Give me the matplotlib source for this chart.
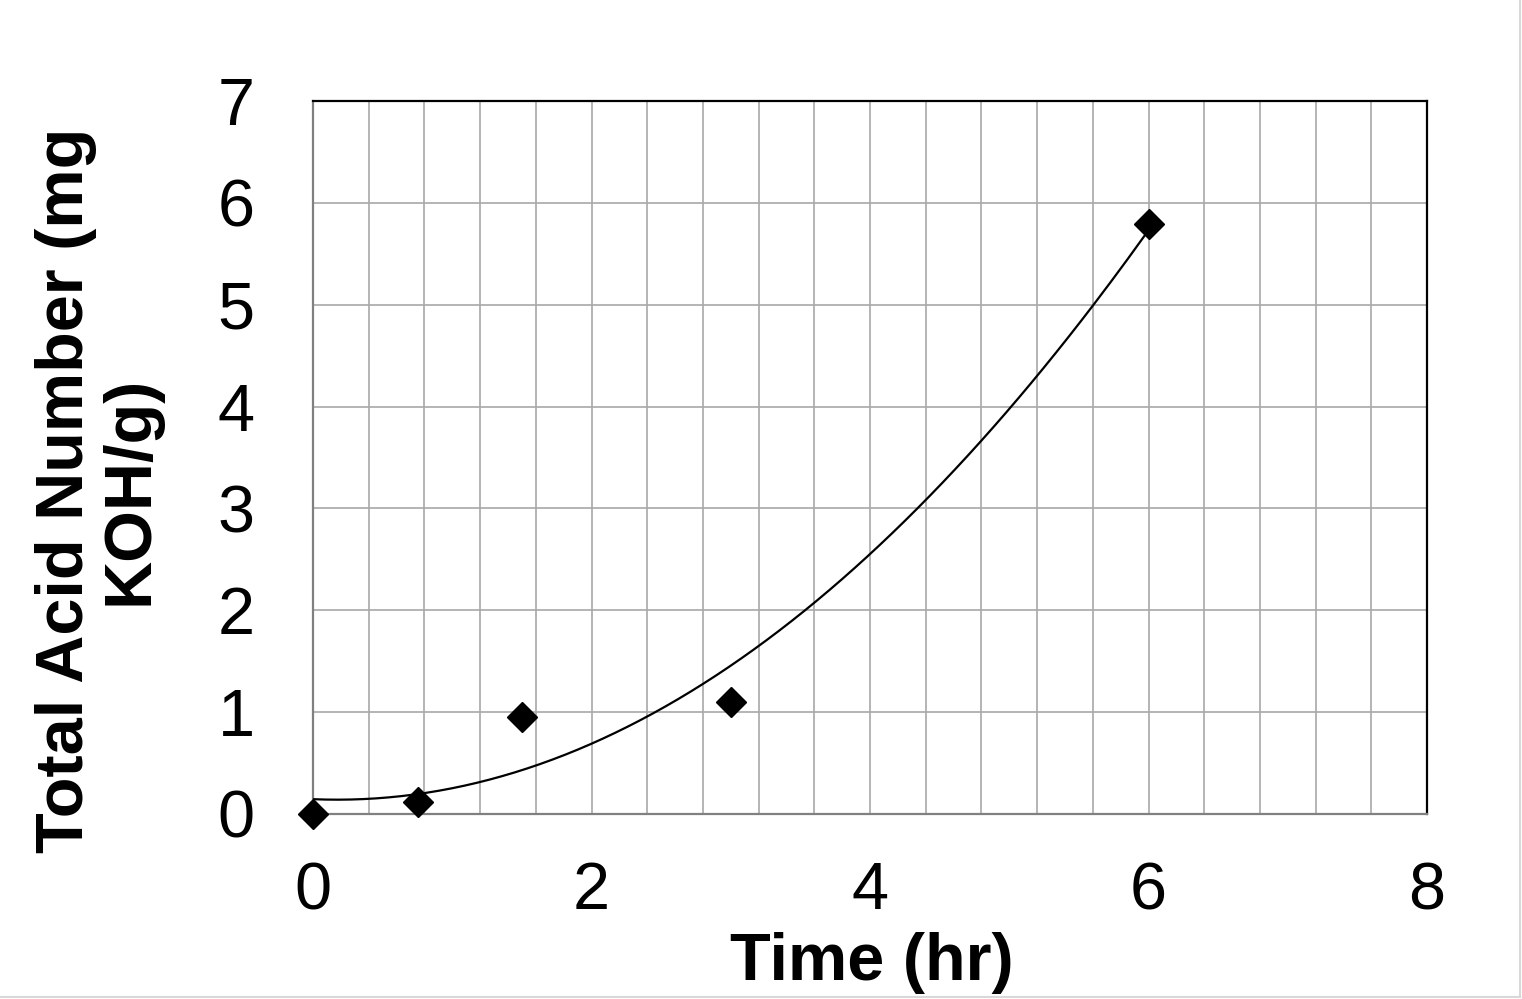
import numpy as np
import matplotlib
matplotlib.use('Agg')
from matplotlib import pyplot as plt
from matplotlib.lines import Line2D

plt.rcParams['font.family'] = ['Liberation Sans', 'DejaVu Sans']

time_hr = [0, 0.75, 1.5, 3, 6]
tan = [0, 0.12, 0.95, 1.1, 5.79]
x_ticks = [0, 2, 4, 6, 8]
y_ticks = [0, 1, 2, 3, 4, 5, 6, 7]

# second order polynomial trendline through the measured points
coef = np.polyfit(time_hr, tan, 2)
xs = np.linspace(min(time_hr), max(time_hr), 200)

fig = plt.figure(figsize=(15.22, 9.99), dpi=100)
ax = fig.add_axes([0.2057, 0.1852, 0.9376 - 0.2057, 0.8989 - 0.1852])

ax.plot(xs, np.polyval(coef, xs), color='black', linewidth=1.6, zorder=3)
ax.plot(time_hr, tan, 'D', color='black', markersize=15, zorder=4, clip_on=False)

ax.set_xlim(0, 8)
ax.set_ylim(0, 7)
ax.set_xticks(x_ticks)
ax.set_yticks(y_ticks)
ax.set_xticks(np.arange(0, 8.01, 0.4), minor=True)
ax.grid(True, which='both', color='#a8a8a8', linewidth=1.2, zorder=0)
ax.set_axisbelow(True)
ax.tick_params(which='both', direction='in', length=0, labelsize=48, colors='black')
ax.tick_params(axis='x', pad=34)
ax.tick_params(axis='y', pad=42)

ax.spines['top'].set_color('black')
ax.spines['right'].set_color('black')
ax.spines['left'].set_color('#808080')
ax.spines['bottom'].set_color('#808080')
for s in ax.spines.values():
    s.set_linewidth(1.6)

fig.text(872 / 1522, 1 - 963 / 999, 'Time (hr)', fontsize=48, fontweight='bold',
         ha='center', va='center')
fig.text(98 / 1522, 1 - 490 / 999, 'Total Acid Number (mg\nKOH/g)', fontsize=48,
         fontweight='bold', rotation=90, ha='center', va='center',
         multialignment='center', linespacing=1.05)

# thin light border on the right and bottom edges of the picture
fig.add_artist(Line2D([0.9988, 0.9988], [0.002, 1], transform=fig.transFigure,
                      color='#d8d8d8', linewidth=1.5))
fig.add_artist(Line2D([0, 0.9988], [0.0025, 0.0025], transform=fig.transFigure,
                      color='#d8d8d8', linewidth=1.5))

plt.savefig('out.png', dpi=100)
plt.close()
